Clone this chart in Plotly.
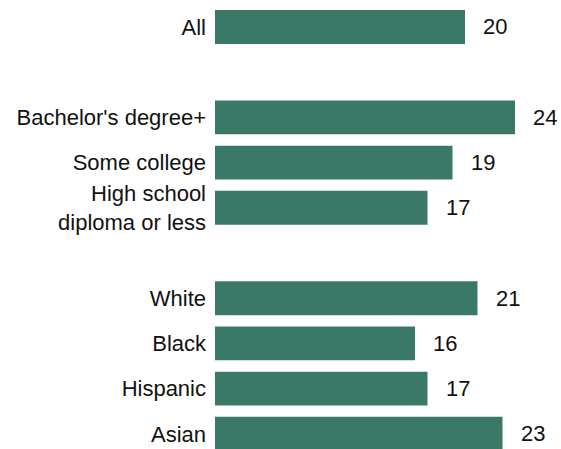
import plotly.graph_objects as go

categories = ["All", " ", "Bachelor's degree+", "Some college",
              "High school<br>diploma or less", "  ",
              "White", "Black", "Hispanic", "Asian"]
bar_categories = ["All", "Bachelor's degree+", "Some college",
                  "High school<br>diploma or less",
                  "White", "Black", "Hispanic", "Asian"]
values = [20, 24, 19, 17, 21, 16, 17, 23]

FONT = "Liberation Sans, Arial, sans-serif"
COLOR = "#3a7868"

fig = go.Figure()
fig.add_trace(go.Bar(
    x=values, y=bar_categories, orientation="h",
    marker=dict(color=COLOR, line=dict(width=0)),
    width=0.75, hoverinfo="skip",
))

for v, c in zip(values, bar_categories):
    fig.add_annotation(x=v, y=c, text=str(v), showarrow=False,
                       xanchor="left", xshift=16,
                       font=dict(family=FONT, size=22, color="#111111"))

fig.update_layout(
    width=561, height=449,
    margin=dict(l=215, r=0, t=0, b=0),
    paper_bgcolor="white", plot_bgcolor="white",
    showlegend=False,
    font=dict(family=FONT, size=21, color="#111111"),
    xaxis=dict(range=[0, 27.68], visible=False, fixedrange=True),
    yaxis=dict(type="category", categoryorder="array", categoryarray=categories,
               range=[9.336, -0.597], showgrid=False, zeroline=False,
               showline=False, ticks="", ticklabelstandoff=8, fixedrange=True,
               tickfont=dict(family=FONT, size=22, color="#111111")),
)

fig.write_html(
    "out.html",
    config={"displayModeBar": False, "staticPlot": True},
    post_script=("document.documentElement.style.margin='0';"
                 "document.body.style.margin='0';"
                 "document.body.style.padding='0';"
                 "document.documentElement.style.overflow='hidden';"
                 "document.body.style.overflow='hidden';"),
)
